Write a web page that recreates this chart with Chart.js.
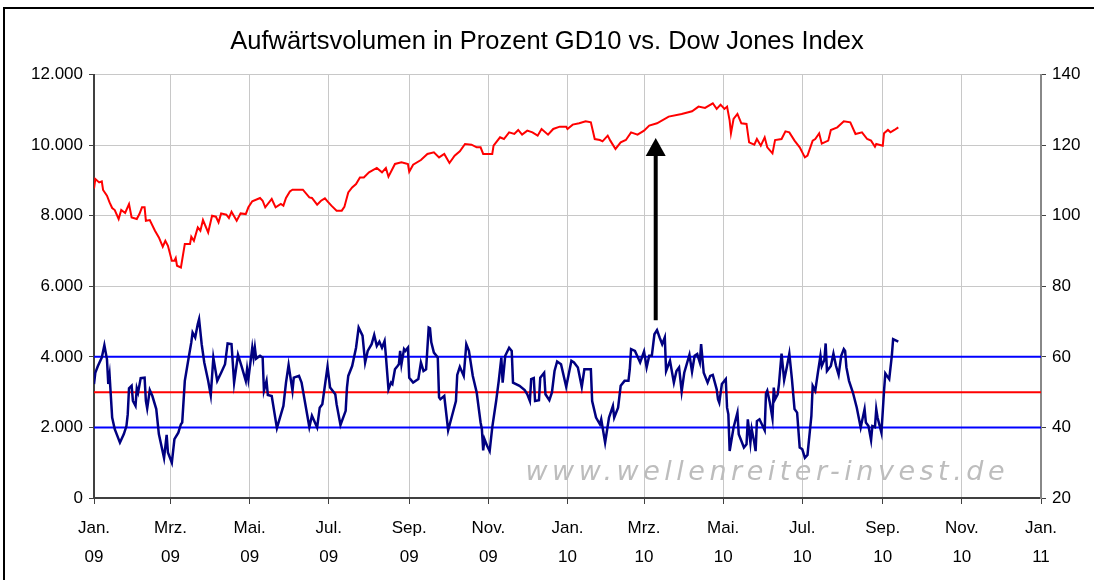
<!DOCTYPE html>
<html>
<head>
<meta charset="utf-8">
<script src="https://cdn.jsdelivr.net/npm/chart.js@4/dist/chart.umd.min.js"></script>
<style>
  html, body { margin: 0; padding: 0; background: #fff; overflow: hidden; }
  #frame { position: absolute; left: 3px; top: 7px; width: 1200px; height: 700px; border: 2px solid #000; box-sizing: border-box; }
  #c { position: absolute; left: 0; top: 0; }
</style>
</head>
<body>
<div id="frame"></div>
<canvas id="c" width="1094" height="580"></canvas>
<script>
// ---------- Data ----------
const chartTitle = 'Aufwärtsvolumen in Prozent GD10 vs. Dow Jones Index';

const tickDates   = ['2009-01-01','2009-03-01','2009-05-01','2009-07-01','2009-09-01','2009-11-01','2010-01-01','2010-03-01','2010-05-01','2010-07-01','2010-09-01','2010-11-01','2011-01-01'];
const monthLabels = ['Jan.','Mrz.','Mai.','Jul.','Sep.','Nov.','Jan.','Mrz.','Mai.','Jul.','Sep.','Nov.','Jan.'];
const yearLabels  = ['09','09','09','09','09','09','10','10','10','10','10','10','11'];

// Dow Jones Index (left axis)
const dowDates = ['2009-01-01','2009-01-02','2009-01-05','2009-01-07','2009-01-08','2009-01-11','2009-01-13','2009-01-15','2009-01-17','2009-01-20','2009-01-22','2009-01-25','2009-01-28','2009-01-30','2009-02-03','2009-02-05','2009-02-07','2009-02-09','2009-02-10','2009-02-13','2009-02-17','2009-02-20','2009-02-23','2009-02-25','2009-02-27','2009-03-02','2009-03-04','2009-03-05','2009-03-06','2009-03-09','2009-03-12','2009-03-16','2009-03-17','2009-03-19','2009-03-22','2009-03-24','2009-03-26','2009-03-30','2009-04-02','2009-04-05','2009-04-07','2009-04-09','2009-04-13','2009-04-15','2009-04-17','2009-04-21','2009-04-24','2009-04-28','2009-04-30','2009-05-03','2009-05-09','2009-05-11','2009-05-13','2009-05-18','2009-05-21','2009-05-25','2009-05-27','2009-05-29','2009-06-01','2009-06-03','2009-06-11','2009-06-16','2009-06-18','2009-06-22','2009-06-25','2009-06-28','2009-06-30','2009-07-03','2009-07-07','2009-07-11','2009-07-13','2009-07-16','2009-07-19','2009-07-22','2009-07-25','2009-07-28','2009-08-01','2009-08-07','2009-08-11','2009-08-14','2009-08-16','2009-08-21','2009-08-26','2009-08-31','2009-09-01','2009-09-04','2009-09-10','2009-09-15','2009-09-20','2009-09-24','2009-09-28','2009-10-02','2009-10-06','2009-10-10','2009-10-14','2009-10-19','2009-10-23','2009-10-26','2009-10-28','2009-11-01','2009-11-04','2009-11-05','2009-11-10','2009-11-13','2009-11-17','2009-11-21','2009-11-24','2009-11-27','2009-12-01','2009-12-05','2009-12-09','2009-12-12','2009-12-17','2009-12-21','2009-12-26','2009-12-31','2010-01-01','2010-01-05','2010-01-10','2010-01-15','2010-01-19','2010-01-22','2010-01-26','2010-01-28','2010-02-01','2010-02-03','2010-02-07','2010-02-11','2010-02-15','2010-02-19','2010-02-24','2010-03-01','2010-03-05','2010-03-11','2010-03-20','2010-03-30','2010-04-07','2010-04-12','2010-04-17','2010-04-23','2010-04-26','2010-04-29','2010-05-02','2010-05-04','2010-05-06','2010-05-07','2010-05-09','2010-05-12','2010-05-15','2010-05-19','2010-05-21','2010-05-25','2010-05-27','2010-05-30','2010-06-02','2010-06-04','2010-06-08','2010-06-10','2010-06-15','2010-06-18','2010-06-21','2010-06-25','2010-06-29','2010-07-03','2010-07-05','2010-07-09','2010-07-11','2010-07-14','2010-07-16','2010-07-21','2010-07-23','2010-07-28','2010-08-02','2010-08-07','2010-08-11','2010-08-16','2010-08-20','2010-08-23','2010-08-26','2010-08-27','2010-09-01','2010-09-02','2010-09-05','2010-09-07','2010-09-10','2010-09-13'];
const dowValues = [8770,9040,8945,8975,8730,8568,8378,8218,8162,7907,8162,8077,8332,7952,7907,8048,8239,8239,7859,7878,7575,7385,7121,7291,7149,6724,6724,6800,6582,6534,7197,7197,7405,7291,7669,7575,7878,7527,8000,7972,7811,8066,8029,7935,8114,7859,8066,8048,8239,8409,8503,8426,8239,8475,8239,8332,8285,8503,8690,8738,8738,8520,8503,8313,8426,8494,8409,8285,8143,8143,8250,8662,8803,8898,9087,9087,9229,9353,9229,9353,9107,9467,9513,9467,9249,9447,9580,9750,9796,9654,9750,9495,9702,9825,10033,10014,9938,9938,9750,9750,9750,9986,10222,10174,10363,10317,10431,10298,10411,10363,10270,10459,10298,10459,10525,10525,10459,10582,10619,10675,10648,10174,10146,10108,10270,10128,9892,10080,10146,10363,10298,10411,10553,10619,10809,10885,10960,11093,11055,11187,11027,11149,11027,11093,10696,10336,10743,10885,10619,10601,10080,10014,10174,9986,10222,9938,9768,10146,10174,10392,10363,10128,9938,9654,9702,10128,10174,10336,10042,10128,10431,10506,10675,10648,10317,10363,10174,10128,9957,10033,9986,10336,10431,10363,10431,10506];

// Aufwärtsvolumen in Prozent, GD10 (right axis)
const gdDates = ['2009-01-01','2009-01-02','2009-01-04','2009-01-07','2009-01-09','2009-01-11','2009-01-12','2009-01-13','2009-01-15','2009-01-17','2009-01-21','2009-01-24','2009-01-26','2009-01-27','2009-01-28','2009-01-30','2009-01-31','2009-02-02','2009-02-03','2009-02-04','2009-02-06','2009-02-09','2009-02-10','2009-02-11','2009-02-13','2009-02-15','2009-02-18','2009-02-20','2009-02-24','2009-02-26','2009-02-27','2009-03-02','2009-03-04','2009-03-07','2009-03-09','2009-03-10','2009-03-12','2009-03-15','2009-03-17','2009-03-18','2009-03-20','2009-03-22','2009-03-23','2009-03-25','2009-03-27','2009-03-30','2009-04-01','2009-04-03','2009-04-06','2009-04-09','2009-04-12','2009-04-14','2009-04-17','2009-04-19','2009-04-22','2009-04-25','2009-04-28','2009-04-29','2009-04-30','2009-05-03','2009-05-04','2009-05-05','2009-05-06','2009-05-09','2009-05-11','2009-05-12','2009-05-14','2009-05-15','2009-05-18','2009-05-22','2009-05-27','2009-05-29','2009-05-31','2009-06-03','2009-06-04','2009-06-08','2009-06-10','2009-06-16','2009-06-18','2009-06-22','2009-06-24','2009-06-26','2009-06-30','2009-07-02','2009-07-06','2009-07-07','2009-07-10','2009-07-14','2009-07-15','2009-07-16','2009-07-19','2009-07-22','2009-07-24','2009-07-27','2009-07-29','2009-07-31','2009-08-03','2009-08-05','2009-08-07','2009-08-09','2009-08-11','2009-08-13','2009-08-14','2009-08-16','2009-08-18','2009-08-19','2009-08-21','2009-08-23','2009-08-24','2009-08-25','2009-08-26','2009-08-28','2009-08-29','2009-08-31','2009-09-01','2009-09-04','2009-09-08','2009-09-10','2009-09-12','2009-09-14','2009-09-16','2009-09-17','2009-09-18','2009-09-20','2009-09-23','2009-09-24','2009-09-25','2009-09-28','2009-10-01','2009-10-04','2009-10-07','2009-10-08','2009-10-10','2009-10-13','2009-10-15','2009-10-17','2009-10-20','2009-10-23','2009-10-26','2009-10-27','2009-10-28','2009-10-29','2009-10-31','2009-11-02','2009-11-04','2009-11-07','2009-11-09','2009-11-11','2009-11-12','2009-11-14','2009-11-17','2009-11-19','2009-11-20','2009-11-25','2009-11-29','2009-12-01','2009-12-03','2009-12-04','2009-12-06','2009-12-07','2009-12-10','2009-12-11','2009-12-14','2009-12-15','2009-12-18','2009-12-20','2009-12-22','2009-12-24','2009-12-27','2009-12-31','2010-01-04','2010-01-06','2010-01-09','2010-01-12','2010-01-14','2010-01-19','2010-01-20','2010-01-23','2010-01-26','2010-01-27','2010-01-30','2010-02-02','2010-02-05','2010-02-06','2010-02-09','2010-02-11','2010-02-14','2010-02-17','2010-02-18','2010-02-19','2010-02-22','2010-02-26','2010-03-01','2010-03-03','2010-03-05','2010-03-07','2010-03-09','2010-03-11','2010-03-13','2010-03-15','2010-03-17','2010-03-18','2010-03-21','2010-03-24','2010-03-26','2010-03-28','2010-03-30','2010-04-01','2010-04-05','2010-04-07','2010-04-09','2010-04-11','2010-04-13','2010-04-14','2010-04-16','2010-04-19','2010-04-21','2010-04-23','2010-04-26','2010-04-27','2010-04-28','2010-04-30','2010-05-03','2010-05-04','2010-05-05','2010-05-06','2010-05-09','2010-05-12','2010-05-13','2010-05-17','2010-05-19','2010-05-20','2010-05-22','2010-05-23','2010-05-25','2010-05-26','2010-05-27','2010-05-29','2010-06-02','2010-06-03','2010-06-04','2010-06-06','2010-06-08','2010-06-09','2010-06-10','2010-06-12','2010-06-13','2010-06-15','2010-06-17','2010-06-19','2010-06-21','2010-06-23','2010-06-25','2010-06-27','2010-06-29','2010-07-01','2010-07-03','2010-07-05','2010-07-08','2010-07-09','2010-07-11','2010-07-13','2010-07-15','2010-07-16','2010-07-18','2010-07-19','2010-07-20','2010-07-23','2010-07-25','2010-07-27','2010-07-29','2010-07-31','2010-08-02','2010-08-03','2010-08-04','2010-08-06','2010-08-09','2010-08-12','2010-08-15','2010-08-18','2010-08-19','2010-08-21','2010-08-23','2010-08-24','2010-08-26','2010-08-27','2010-08-28','2010-08-31','2010-09-02','2010-09-03','2010-09-06','2010-09-08','2010-09-09','2010-09-13'];
const gdValues = [52.3,55.5,57.4,59.8,63.3,59.3,52.3,54.9,42.8,39.5,35.7,38.1,40.4,43.7,51.1,51.8,47.5,46.1,51.1,49.9,54.0,54.1,47.5,45.4,50.6,48.9,45.2,38.1,31.3,37.9,32.9,30.0,36.7,38.5,40.9,41.4,53.2,59.8,64.1,66.9,65.5,69.3,70.7,63.6,58.4,53.2,49.1,59.8,53.2,55.5,57.9,63.8,63.6,52.7,60.6,57.0,53.2,56.5,53.7,62.6,59.8,62.6,59.5,60.3,59.8,50.4,53.2,49.2,48.9,39.8,46.1,52.7,57.7,50.4,54.1,54.6,52.7,40.1,43.3,40.0,45.6,46.6,57.2,51.3,49.4,46.6,40.7,44.7,51.3,54.6,57.4,62.6,68.3,66.0,58.4,61.7,63.6,66.2,63.1,64.3,62.6,64.5,60.3,50.8,52.7,52.3,56.5,57.4,57.9,61.7,57.9,62.2,61.7,62.6,54.1,52.7,53.7,58.4,56.0,56.5,68.3,68.1,64.1,61.2,59.8,48.5,48.0,48.9,39.2,43.3,47.5,54.9,57.2,54.6,63.6,61.7,54.6,49.9,41.4,39.5,33.5,36.7,34.8,33.3,40.0,47.5,53.2,59.8,52.7,60.3,62.6,61.7,52.7,51.8,50.6,49.4,47.5,53.7,54.0,47.5,47.7,54.1,55.5,49.4,47.7,49.9,56.0,58.7,57.9,51.5,58.9,58.4,57.0,51.5,56.5,56.5,47.5,42.8,40.9,42.3,35.7,42.8,46.1,42.8,45.6,51.8,53.2,53.2,56.5,62.2,61.7,58.4,61.5,57.0,60.3,60.3,66.4,67.6,65.5,63.6,65.5,56.0,58.9,52.7,56.0,57.0,50.2,55.5,60.6,55.8,60.3,60.8,58.4,63.6,55.5,52.7,54.6,54.9,50.8,48.0,47.0,52.3,53.7,45.6,43.7,33.3,40.0,44.2,38.1,34.3,35.2,42.3,35.7,39.5,35.7,33.3,41.8,42.3,39.2,49.6,50.4,47.0,42.6,51.3,48.0,49.4,52.3,60.9,53.4,57.0,60.9,53.7,45.2,44.2,34.3,33.8,31.4,32.2,43.3,51.8,50.4,55.5,60.3,57.4,59.1,63.8,56.0,57.4,60.9,57.4,54.9,60.3,62.2,61.7,57.0,53.2,49.9,45.6,40.0,45.2,41.4,40.4,36.4,40.4,40.1,45.2,42.8,38.5,50.4,55.3,53.7,60.3,65.0,64.3];

// Reference levels on the right axis
const levelValues = [60, 50, 40];
const levelColors = ['#0000ff', '#ff0000', '#0000ff'];

// Arrow (right-axis units)
const arrowDate = '2010-03-10';
const arrowFrom = 70.4;
const arrowTo = 122;

const watermark = 'www.wellenreiter-invest.de';

// ---------- Helpers ----------
const BASE = Date.UTC(2009, 0, 1);
function dayIndex(s) {
  const [y, m, d] = s.split('-').map(Number);
  return (Date.UTC(y, m - 1, d) - BASE) / 86400000;
}
const xMin = dayIndex(tickDates[0]);
const xMax = dayIndex(tickDates[tickDates.length - 1]);

const dowData = dowDates.map((d, i) => ({ x: dayIndex(d), y: dowValues[i] }));
const gdData = gdDates.map((d, i) => ({ x: dayIndex(d), y: gdValues[i] }));

const FONT = '"Liberation Sans", Arial, sans-serif';

const levelSets = levelValues.map((v, i) => ({
  label: 'Level ' + v,
  data: [{ x: xMin, y: v }, { x: xMax, y: v }],
  yAxisID: 'yR',
  borderColor: levelColors[i],
  borderWidth: 2,
  pointRadius: 0,
  order: 3
}));

const watermarkPlugin = {
  id: 'watermark',
  beforeDatasetsDraw(chart) {
    const { ctx, chartArea } = chart;
    ctx.save();
    ctx.font = 'oblique 27px "DejaVu Sans", Verdana, sans-serif';
    ctx.fillStyle = '#bdbdbd';
    ctx.textAlign = 'right';
    ctx.textBaseline = 'alphabetic';
    try { ctx.letterSpacing = '4.5px'; } catch (e) {}
    ctx.fillText(watermark, chartArea.right - 32, 480);
    ctx.restore();
  }
};

const arrowPlugin = {
  id: 'arrow',
  afterDatasetsDraw(chart) {
    const { ctx } = chart;
    const xs = chart.scales.x, ys = chart.scales.yR;
    const x = xs.getPixelForValue(dayIndex(arrowDate));
    const y1 = ys.getPixelForValue(arrowFrom);
    const y2 = ys.getPixelForValue(arrowTo);
    const headH = 18, headW = 10;
    ctx.save();
    ctx.strokeStyle = '#000';
    ctx.fillStyle = '#000';
    ctx.lineWidth = 4;
    ctx.beginPath();
    ctx.moveTo(x, y1);
    ctx.lineTo(x, y2 + headH - 1);
    ctx.stroke();
    ctx.beginPath();
    ctx.moveTo(x, y2);
    ctx.lineTo(x - headW, y2 + headH);
    ctx.lineTo(x + headW, y2 + headH);
    ctx.closePath();
    ctx.fill();
    ctx.restore();
  }
};

new Chart(document.getElementById('c'), {
  type: 'line',
  data: {
    datasets: [
      {
        label: 'Aufwärtsvolumen GD10',
        data: gdData,
        yAxisID: 'yR',
        borderColor: '#000080',
        borderWidth: 2.5,
        pointRadius: 0,
        order: 1
      },
      {
        label: 'Dow Jones Index',
        data: dowData,
        yAxisID: 'yL',
        borderColor: '#ff0000',
        borderWidth: 2,
        pointRadius: 0,
        order: 2
      },
      ...levelSets
    ]
  },
  options: {
    responsive: false,
    animation: false,
    devicePixelRatio: 1,
    parsing: false,
    normalized: true,
    layout: { padding: 0 },
    elements: { line: { tension: 0 } },
    plugins: {
      legend: { display: false },
      tooltip: { enabled: false },
      title: {
        display: true,
        text: chartTitle,
        color: '#000',
        font: { family: FONT, size: 25.5, weight: 'normal', lineHeight: 1.2 },
        padding: { top: 27, bottom: 17 }
      }
    },
    scales: {
      x: {
        type: 'linear',
        min: xMin,
        max: xMax,
        afterBuildTicks(scale) {
          scale.ticks = tickDates.map(d => ({ value: dayIndex(d) }));
        },
        afterFit(scale) { scale.height = 82; },
        ticks: {
          autoSkip: false,
          maxRotation: 0,
          minRotation: 0,
          padding: 10,
          color: '#000',
          font: { family: FONT, size: 17, lineHeight: 1.7 },
          callback(value, index) { return [monthLabels[index], yearLabels[index]]; }
        },
        grid: { color: '#c8c8c8', lineWidth: 1, tickColor: '#404040', tickLength: 6 },
        border: { color: '#404040', width: 2 }
      },
      yL: {
        type: 'linear',
        position: 'left',
        min: 0,
        max: 12000,
        afterBuildTicks(scale) {
          const t = [];
          for (let v = 0; v <= 12000; v += 2000) t.push({ value: v });
          scale.ticks = t;
        },
        afterFit(scale) { scale.width = 94; },
        ticks: {
          padding: 6,
          color: '#000',
          font: { family: FONT, size: 17 },
          callback(v) { return Number(v).toLocaleString('de-DE'); }
        },
        grid: { color: '#c8c8c8', lineWidth: 1, tickColor: '#404040', tickLength: 5 },
        border: { color: '#404040', width: 2 }
      },
      yR: {
        type: 'linear',
        position: 'right',
        min: 20,
        max: 140,
        afterBuildTicks(scale) {
          const t = [];
          for (let v = 20; v <= 140; v += 20) t.push({ value: v });
          scale.ticks = t;
        },
        afterFit(scale) { scale.width = 53; },
        ticks: {
          padding: 6,
          color: '#000',
          font: { family: FONT, size: 17 }
        },
        grid: { drawOnChartArea: false, tickColor: '#404040', tickLength: 5 },
        border: { color: '#888888', width: 2 }
      }
    }
  },
  plugins: [watermarkPlugin, arrowPlugin]
});
</script>
</body>
</html>
